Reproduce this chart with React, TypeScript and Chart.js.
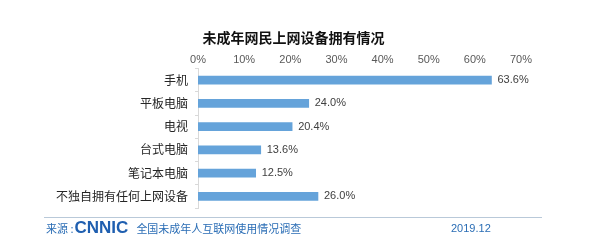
import React, { useEffect, useRef } from "react";
import { Chart, registerables } from "chart.js";

Chart.register(...registerables);

const categories = ["手机", "平板电脑", "电视", "台式电脑", "笔记本电脑", "不独自拥有任何上网设备"];
const values = [63.6, 24.0, 20.4, 13.6, 12.5, 26.0];
const xTicks = [0, 10, 20, 30, 40, 50, 60, 70];

const valueLabels = {
  id: "valueLabels",
  afterDatasetsDraw(chart: any) {
    const ctx = chart.ctx;
    const meta = chart.getDatasetMeta(0);
    ctx.save();
    ctx.font = "11px 'Liberation Sans', Arial, sans-serif";
    ctx.fillStyle = "#404040";
    ctx.textBaseline = "middle";
    ctx.textAlign = "left";
    meta.data.forEach((bar: any, i: number) => {
      ctx.fillText(values[i].toFixed(1) + "%", bar.x + 6, bar.y);
    });
    ctx.restore();
  },
};

export default function App() {
  const ref = useRef<HTMLCanvasElement | null>(null);
  useEffect(() => {
    if (!ref.current) return;
    const chart = new Chart(ref.current, {
      type: "bar",
      data: {
        labels: categories,
        datasets: [
          {
            data: values,
            backgroundColor: "#65a3da",
            barThickness: 8,
          },
        ],
      },
      options: {
        indexAxis: "y",
        animation: false,
        responsive: false,
        maintainAspectRatio: false,
        layout: { padding: { top: 44, right: 79, bottom: 38, left: 0 } },
        plugins: { legend: { display: false }, tooltip: { enabled: false }, title: { display: false } },
        scales: {
          x: {
            position: "top",
            min: 0,
            max: 70,
            afterBuildTicks(scale: any) {
              scale.ticks = xTicks.map((v) => ({ value: v }));
            },
            afterFit(scale: any) {
              scale.height = 24.5;
            },
            grid: { display: false },
            border: { display: false },
            ticks: {
              padding: -6,
              color: "#595959",
              font: { family: "'Liberation Sans', Arial, sans-serif", size: 11 },
              callback: (v: any) => v + "%",
            },
          },
          y: {
            afterFit(scale: any) {
              scale.width = 198;
            },
            grid: {
              display: true,
              drawOnChartArea: false,
              tickLength: 3,
              color: "#d9d9d9",
              offset: true,
            },
            border: { display: true, color: "#d9d9d9" },
            ticks: {
              padding: 7,
              color: "#262626",
              font: { family: "'Noto Sans CJK SC', sans-serif", size: 12 },
            },
          },
        },
      },
      plugins: [valueLabels],
    });
    return () => chart.destroy();
  }, []);

  const blue = "#2a6db5";
  return (
    <div style={{ position: "absolute", left: 0, top: 0, width: 600, height: 246, background: "#fff", overflow: "hidden" }}>
      <canvas ref={ref} width={600} height={246} style={{ position: "absolute", left: 0, top: 0 }} />
      <div
        style={{
          position: "absolute",
          left: 0,
          width: 587,
          top: 27,
          textAlign: "center",
          fontFamily: "'Noto Sans CJK SC', sans-serif",
          fontWeight: 700,
          fontSize: 14,
          lineHeight: "20px",
          color: "#111",
        }}
      >
        未成年网民上网设备拥有情况
      </div>
      <div style={{ position: "absolute", left: 44, top: 217, width: 498, height: 1, background: "#b9c9d9" }} />
      <div
        style={{
          position: "absolute",
          left: 46,
          top: 218,
          height: 20,
          display: "flex",
          alignItems: "center",
          fontFamily: "'Noto Sans CJK SC', sans-serif",
          color: blue,
          whiteSpace: "nowrap",
        }}
      >
        <span style={{ fontSize: 11 }}>来源 :</span>
        <span
          style={{
            fontFamily: "'Liberation Sans', Arial, sans-serif",
            fontWeight: 700,
            fontSize: 17,
            color: "#1f5fb0",
            marginLeft: 1,
            lineHeight: "20px",
          }}
        >
          CNNIC
        </span>
        <span style={{ fontSize: 11, marginLeft: 8 }}>全国未成年人互联网使用情况调查</span>
      </div>
      <div
        style={{
          position: "absolute",
          left: 451,
          top: 221,
          lineHeight: "14px",
          fontFamily: "'Liberation Sans', Arial, sans-serif",
          fontSize: 11,
          color: blue,
        }}
      >
        2019.12
      </div>
    </div>
  );
}
